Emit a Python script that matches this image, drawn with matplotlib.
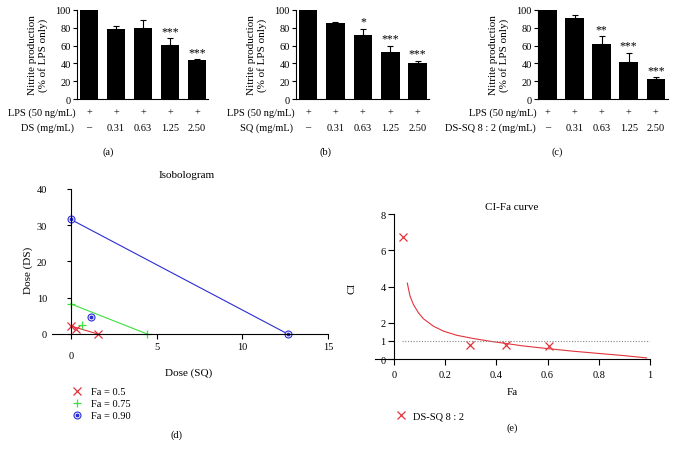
import numpy as np
import matplotlib
matplotlib.use("Agg")
import matplotlib.pyplot as plt
import matplotlib.transforms as mtransforms
from matplotlib.legend_handler import HandlerTuple

plt.rcParams["font.family"] = ["Liberation Serif", "DejaVu Serif"]
plt.rcParams["font.size"] = 7.5

# --- bar panels (a)-(c) ---
lps_row = ["+", "+", "+", "+", "+"]
dose_row = ["\u2013", "0.31", "0.63", "1.25", "2.50"]

ds_mean = [100, 79, 80, 61, 44]
ds_err = [0, 3, 9, 7, 1]
ds_sig = ["", "", "", "***", "***"]

sq_mean = [100, 85, 72, 53, 41]
sq_err = [0, 2, 7, 7, 2]
sq_sig = ["", "", "*", "***", "***"]

mix_mean = [100, 91, 62, 42, 23]
mix_err = [0, 3, 9, 10, 2]
mix_sig = ["", "", "**", "***", "***"]

bar_ticks = [0, 20, 40, 60, 80, 100]

# --- isobologram (d) ---
fa_labels = ["Fa = 0.5", "Fa = 0.75", "Fa = 0.90"]
iso_sq = [[0, 1.57], [0, 4.45], [0, 12.65]]       # single-drug doses (line ends)
iso_ds = [[2.2, 0], [8.3, 0], [31.6, 0]]
combo_sq = [0.33, 0.63, 1.18]                      # 8:2 combination doses
combo_ds = [1.3, 2.5, 4.7]

# --- CI-Fa curve (e) ---
ci_fa = [0.052, 0.0625, 0.0755, 0.095, 0.115, 0.154, 0.193, 0.245, 0.31,
         0.375, 0.44, 0.505, 0.603, 0.70, 0.805, 0.896, 0.987]
ci_val = [4.19, 3.48, 3.02, 2.56, 2.22, 1.81, 1.54, 1.31, 1.13,
          0.98, 0.85, 0.72, 0.57, 0.43, 0.30, 0.19, 0.06]
pt_fa = [0.036, 0.295, 0.4375, 0.605]
pt_ci = [6.75, 0.80, 0.80, 0.70]
ci_ref = 1.0

RED = "#e2343c"
GREEN = "#3ee03e"
BLUE = "#2c2cd2"

fig = plt.figure(figsize=(6.75, 4.56), dpi=100)


def bar_panel(rect, means, errs, sigs, dose_name, xlim, tag, tag_x):
    ax = fig.add_axes(rect)
    x = np.arange(len(means))
    ax.bar(x, means, width=0.68, color="black", zorder=2)
    ax.errorbar(x, means, yerr=[np.zeros(len(errs)), errs], fmt="none",
                ecolor="black", elinewidth=0.8, capsize=2.5, capthick=0.8)
    for xi, m, e, s in zip(x, means, errs, sigs):
        if s:
            ax.text(xi, m + e + 1, s, ha="center", va="bottom", fontsize=8.5)
    ax.set_xlim(*xlim)
    ax.set_ylim(0, 100)
    ax.set_yticks(bar_ticks)
    ax.set_xticks([])
    for side in ("top", "right"):
        ax.spines[side].set_visible(False)
    ax.spines["left"].set_linewidth(0.8)
    ax.spines["bottom"].set_linewidth(0.8)
    ax.tick_params(axis="y", length=3, width=0.8, pad=1.5, labelsize=7.5)
    ax.set_ylabel("Nitrite production\n(% of LPS only)", fontsize=8,
                  labelpad=5.5, linespacing=1.05)
    tr = mtransforms.blended_transform_factory(ax.transData, ax.transAxes)
    for xi, a, b in zip(x, lps_row, dose_row):
        ax.text(xi, -0.145, a, transform=tr, ha="center", va="center", fontsize=7.5)
        ax.text(xi, -0.315, b, transform=tr, ha="center", va="center", fontsize=7.5)
    ax.text(-0.01, -0.145, "LPS (50 ng/mL)", transform=ax.transAxes,
            ha="right", va="center", fontsize=7.5)
    ax.text(-0.02, -0.315, dose_name, transform=ax.transAxes,
            ha="right", va="center", fontsize=7.5)
    fig.text(tag_x, 0.667, tag, ha="center", va="center", fontsize=7.5)
    return ax


bar_panel([0.1141, 0.7807, 0.1941, 0.1952], ds_mean, ds_err, ds_sig,
          "DS (mg/mL)", (-0.44, 4.41), "(a)", 0.160)
bar_panel([0.4385, 0.7807, 0.1970, 0.1952], sq_mean, sq_err, sq_sig,
          "SQ (mg/mL)", (-0.44, 4.41), "(b)", 0.4815)
bar_panel([0.7970, 0.7807, 0.1926, 0.1952], mix_mean, mix_err, mix_sig,
          "DS-SQ 8 : 2 (mg/mL)", (-0.35, 4.45), "(c)", 0.825)

# --- (d) isobologram ---
axd = fig.add_axes([0.077, 0.2654, 0.409, 0.318])
colors = [RED, GREEN, BLUE]
handles = []
for i in range(3):
    axd.plot(iso_sq[i], iso_ds[i], color=colors[i], lw=0.8, clip_on=False)
    xs = iso_sq[i] + [combo_sq[i]]
    ys = iso_ds[i] + [combo_ds[i]]
    if i == 0:
        h = axd.plot(xs, ys, ls="none", marker="x", ms=5.5, mew=0.9,
                     color=RED, clip_on=False)[0]
        handles.append(h)
    elif i == 1:
        h = axd.plot(xs, ys, ls="none", marker="+", ms=5.5, mew=0.9,
                     color=GREEN, clip_on=False)[0]
        handles.append(h)
    else:
        h1 = axd.plot(xs, ys, ls="none", marker="o", ms=5, mew=0.8,
                      mfc="white", mec=BLUE, clip_on=False)[0]
        h2 = axd.plot(xs, ys, ls="none", marker="o", ms=1.8, color=BLUE,
                      clip_on=False)[0]
        handles.append((h1, h2))
axd.set_xlim(-1.1, 15)
axd.set_ylim(0, 40)
axd.set_xticks([0, 5, 10, 15])
axd.set_yticks([0, 10, 20, 30, 40])
axd.spines["left"].set_position(("data", 0))
for side in ("top", "right"):
    axd.spines[side].set_visible(False)
axd.tick_params(axis="y", length=3, width=0.8, pad=14, labelsize=7.5)
axd.tick_params(axis="x", length=3.5, width=0.8, pad=2.5, labelsize=7.5)
lab0 = axd.get_xticklabels()[0]
lab0.set_transform(lab0.get_transform() +
                   mtransforms.ScaledTranslation(0, -9 / 100, fig.dpi_scale_trans))
fig.text(0.277, 0.616, "Isobologram", ha="center", va="center", fontsize=8)
fig.text(0.28, 0.182, "Dose (SQ)", ha="center", va="center", fontsize=8)
fig.text(0.0415, 0.408, "Dose (DS)", ha="center", va="center", fontsize=8,
         rotation=90)
fig.legend(handles, fa_labels, loc="upper left",
           bbox_to_anchor=(0.098, 1 - 383 / 456), frameon=False, fontsize=7.5,
           handlelength=1.0, handletextpad=0.9, labelspacing=0.25, borderpad=0,
           handler_map={tuple: HandlerTuple(ndivide=1)})
fig.text(0.261, 0.046, "(d)", ha="center", va="center", fontsize=7.5)

# --- (e) CI-Fa curve ---
axe = fig.add_axes([0.5556, 0.2105, 0.4074, 0.318])
axe.plot(ci_fa, ci_val, color=RED, lw=0.8)
hx = axe.plot(pt_fa, pt_ci, ls="none", marker="x", ms=6, mew=0.9, color=RED)[0]
axe.axhline(ci_ref, xmin=0.097, xmax=1.0, color="#888888", lw=0.8, ls=(0, (1, 1.5)))
axe.set_xlim(-0.074, 1.0)
axe.set_ylim(0, 8)
axe.set_xticks([0, 0.2, 0.4, 0.6, 0.8, 1.0])
axe.set_xticklabels(["0", "0.2", "0.4", "0.6", "0.8", "1"])
axe.set_yticks([0, 1, 2, 4, 6, 8])
axe.spines["left"].set_position(("data", 0))
for side in ("top", "right"):
    axe.spines[side].set_visible(False)
axe.tick_params(axis="y", length=4, width=0.8, pad=2, labelsize=7.5)
axe.tick_params(axis="x", length=4, width=0.8, pad=4, labelsize=7.5)
fig.text(0.7585, 0.546, "CI-Fa curve", ha="center", va="center", fontsize=8)
fig.text(0.7585, 0.140, "Fa", ha="center", va="center", fontsize=8)
fig.text(0.5215, 0.368, "CI", ha="center", va="center", fontsize=8, rotation=90)
fig.legend([hx], ["DS-SQ 8 : 2"], loc="upper left",
           bbox_to_anchor=(0.579, 1 - 407 / 456), frameon=False, fontsize=7.5,
           handlelength=1.0, handletextpad=0.6, borderpad=0)
fig.text(0.7585, 0.0614, "(e)", ha="center", va="center", fontsize=7.5)

fig.savefig("out.png", dpi=100)
